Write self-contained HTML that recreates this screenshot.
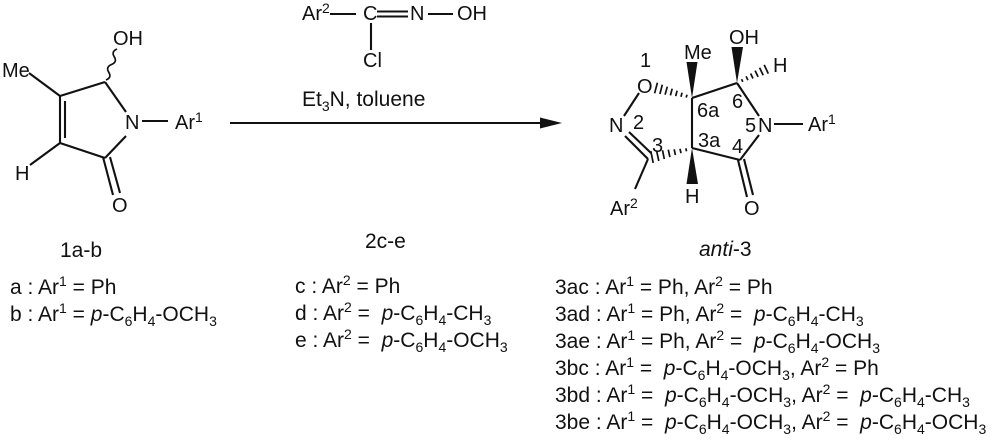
<!DOCTYPE html>
<html>
<head>
<meta charset="utf-8">
<style>
html,body{margin:0;padding:0;background:#fff;}
#wrap{position:relative;width:1000px;height:443px;overflow:hidden;background:#fff;}
svg{position:absolute;left:0;top:0;}
.t{position:absolute;font-family:"Liberation Sans",Arial,sans-serif;font-size:21px;line-height:27px;color:#111;white-space:pre;}
.t sup{font-size:14px;position:relative;top:-8px;vertical-align:baseline;line-height:0;}
.t sub{font-size:14px;position:relative;top:5px;vertical-align:baseline;line-height:0;}
.t i{font-style:italic;}
</style>
</head>
<body>
<div id="wrap">
<svg width="1000" height="443" viewBox="0 0 1000 443" xmlns="http://www.w3.org/2000/svg">
<g stroke="#111" stroke-width="2.1" fill="none" stroke-linecap="butt">
  <!-- left structure 1 -->
  <line x1="29" y1="73" x2="60" y2="96"/>
  <line x1="60" y1="96" x2="105" y2="82"/>
  <line x1="105" y1="82" x2="126" y2="112"/>
  <line x1="126" y1="136" x2="105" y2="158"/>
  <line x1="105" y1="158" x2="60" y2="143"/>
  <line x1="60" y1="143" x2="60" y2="96"/>
  <line x1="65" y1="138" x2="65" y2="101"/>
  <line x1="60" y1="143" x2="30" y2="165"/>
  <line x1="103" y1="157" x2="113" y2="195"/>
  <line x1="110" y1="157" x2="120" y2="193"/>
  <line x1="142" y1="121" x2="168" y2="121"/>
  <path d="M106 80 Q112 77.5 108.75 72.25 Q105.5 67 111.5 64.5 Q117.5 62 114.25 56.75 Q111 51.5 117 49" stroke-width="1.7"/>

  <!-- reagent -->
  <line x1="330" y1="14" x2="356" y2="14"/>
  <line x1="377" y1="11.5" x2="408" y2="11.5"/>
  <line x1="377" y1="16.5" x2="408" y2="16.5"/>
  <line x1="428" y1="14" x2="453" y2="14"/>
  <line x1="371" y1="23" x2="371" y2="50"/>

  <!-- arrow -->
  <line x1="230" y1="123" x2="546" y2="123"/>

  <!-- right structure anti-3 -->
  <line x1="639" y1="93" x2="624" y2="116"/>
  <line x1="625" y1="136" x2="648" y2="159"/>
  <line x1="629" y1="132" x2="651" y2="153"/>
  <line x1="648" y1="159" x2="635" y2="189"/>
  <line x1="692" y1="98" x2="692" y2="148"/>
  <line x1="692" y1="98" x2="737" y2="83"/>
  <line x1="737" y1="83" x2="759" y2="116"/>
  <line x1="759" y1="135" x2="740" y2="160"/>
  <line x1="740" y1="160" x2="692" y2="148"/>
  <line x1="738" y1="160" x2="747" y2="197"/>
  <line x1="744" y1="159" x2="753" y2="195"/>
  <line x1="774" y1="124" x2="803" y2="124"/>

  <g stroke-width="1.7">
  <!-- hashed O -> C6a -->
  <line x1="654.6" y1="93.3" x2="657.4" y2="82.7"/>
  <line x1="659.9" y1="94.0" x2="662.3" y2="84.7"/>
  <line x1="665.1" y1="94.7" x2="667.3" y2="86.7"/>
  <line x1="670.4" y1="95.4" x2="672.2" y2="88.7"/>
  <line x1="675.7" y1="96.1" x2="677.1" y2="90.7"/>
  <line x1="681.0" y1="96.8" x2="682.0" y2="92.7"/>
  <line x1="686.2" y1="97.5" x2="687.0" y2="94.7"/>
  <!-- hashed C6 -> H -->
  <line x1="741.6" y1="79.2" x2="742.8" y2="81.8"/>
  <line x1="746.1" y1="76.3" x2="747.9" y2="80.2"/>
  <line x1="750.6" y1="73.5" x2="753.0" y2="78.5"/>
  <line x1="755.1" y1="70.6" x2="758.1" y2="76.9"/>
  <line x1="759.6" y1="67.7" x2="763.2" y2="75.3"/>
  <line x1="764.2" y1="64.9" x2="768.3" y2="73.6"/>
  <!-- hashed C3a -> C3 -->
  <line x1="685.9" y1="148.3" x2="686.5" y2="151.3"/>
  <line x1="680.0" y1="148.8" x2="681.0" y2="153.2"/>
  <line x1="674.2" y1="149.3" x2="675.4" y2="155.1"/>
  <line x1="668.3" y1="149.7" x2="669.9" y2="157.1"/>
  <line x1="662.5" y1="150.2" x2="664.3" y2="159.0"/>
  <line x1="656.6" y1="150.7" x2="658.8" y2="160.9"/>
  <line x1="650.8" y1="151.1" x2="653.2" y2="162.9"/>
  </g>
</g>
<g fill="#111" stroke="none">
  <polygon points="540,117.5 562,123 540,128.5"/>
  <polygon points="692,98 686.5,62 697.5,62"/>
  <polygon points="737,83 731.5,47 743,47"/>
  <polygon points="692,148 686.5,184 698,184"/>
</g>
<g font-family="Liberation Sans, Arial, sans-serif" font-size="20" fill="#111">
  <!-- left -->
  <text x="2" y="77">Me</text>
  <text x="113" y="45">OH</text>
  <text x="125" y="129">N</text>
  <text x="175" y="129">Ar<tspan font-size="14" dy="-7">1</tspan></text>
  <text x="15" y="180">H</text>
  <text x="112" y="212">O</text>
  <!-- reagent -->
  <text x="302" y="20">Ar<tspan font-size="14" dy="-7">2</tspan></text>
  <text x="363" y="20">C</text>
  <text x="410" y="20">N</text>
  <text x="457" y="20">OH</text>
  <text x="363" y="67">Cl</text>
  <text x="302" y="106" font-size="21">Et<tspan font-size="14" dy="5">3</tspan><tspan dy="-5">N, toluene</tspan></text>
  <!-- right -->
  <text x="640" y="67">1</text>
  <text x="637" y="93">O</text>
  <text x="684" y="59">Me</text>
  <text x="729" y="44">OH</text>
  <text x="773" y="72">H</text>
  <text x="697" y="117">6a</text>
  <text x="732" y="108">6</text>
  <text x="609" y="132">N</text>
  <text x="633" y="129">2</text>
  <text x="652" y="152">3</text>
  <text x="698" y="147">3a</text>
  <text x="745" y="132">5</text>
  <text x="758" y="132">N</text>
  <text x="808" y="131">Ar<tspan font-size="14" dy="-7">1</tspan></text>
  <text x="732" y="153">4</text>
  <text x="744" y="215">O</text>
  <text x="685" y="203">H</text>
  <text x="610" y="215">Ar<tspan font-size="14" dy="-7">2</tspan></text>
</g>
</svg>

<div class="t" style="left:60px;top:237px;">1a-b</div>
<div class="t" style="left:365px;top:228px;">2c-e</div>
<div class="t" style="left:699px;top:236px;"><i>anti</i>-3</div>

<div class="t" style="left:10px;top:274px;">a : Ar<sup>1</sup> = Ph
b : Ar<sup>1</sup> = <i>p</i>-C<sub>6</sub>H<sub>4</sub>-OCH<sub>3</sub></div>

<div class="t" style="left:295px;top:273px;">c : Ar<sup>2</sup> = Ph
d : Ar<sup>2</sup> =  <i>p</i>-C<sub>6</sub>H<sub>4</sub>-CH<sub>3</sub>
e : Ar<sup>2</sup> =  <i>p</i>-C<sub>6</sub>H<sub>4</sub>-OCH<sub>3</sub></div>

<div class="t" style="left:555px;top:274px;">3ac : Ar<sup>1</sup> = Ph, Ar<sup>2</sup> = Ph
3ad : Ar<sup>1</sup> = Ph, Ar<sup>2</sup> =  <i>p</i>-C<sub>6</sub>H<sub>4</sub>-CH<sub>3</sub>
3ae : Ar<sup>1</sup> = Ph, Ar<sup>2</sup> =  <i>p</i>-C<sub>6</sub>H<sub>4</sub>-OCH<sub>3</sub>
3bc : Ar<sup>1</sup> =  <i>p</i>-C<sub>6</sub>H<sub>4</sub>-OCH<sub>3</sub>, Ar<sup>2</sup> = Ph
3bd : Ar<sup>1</sup> =  <i>p</i>-C<sub>6</sub>H<sub>4</sub>-OCH<sub>3</sub>, Ar<sup>2</sup> =  <i>p</i>-C<sub>6</sub>H<sub>4</sub>-CH<sub>3</sub>
3be : Ar<sup>1</sup> =  <i>p</i>-C<sub>6</sub>H<sub>4</sub>-OCH<sub>3</sub>, Ar<sup>2</sup> =  <i>p</i>-C<sub>6</sub>H<sub>4</sub>-OCH<sub>3</sub></div>
</div>
</body>
</html>
